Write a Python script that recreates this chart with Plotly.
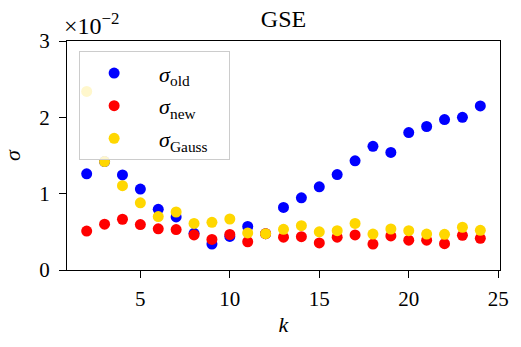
import plotly.graph_objects as go

# k values and the three sigma series (in units of 1e-2)
k = list(range(2, 25))
sigma_old = [1.26, 1.42, 1.245, 1.06, 0.795, 0.695, 0.48, 0.34, 0.44, 0.57, 0.476,
             0.82, 0.945, 1.09, 1.25, 1.43, 1.62, 1.54, 1.80, 1.88, 1.97, 2.00, 2.15]
sigma_new = [0.51, 0.60, 0.665, 0.595, 0.54, 0.53, 0.46, 0.40, 0.465, 0.37, 0.476,
             0.43, 0.437, 0.355, 0.43, 0.46, 0.34, 0.446, 0.39, 0.39, 0.345, 0.455, 0.415]
sigma_gauss = [2.34, 1.42, 1.105, 0.88, 0.70, 0.76, 0.61, 0.625, 0.668, 0.485, 0.476,
               0.533, 0.58, 0.50, 0.515, 0.61, 0.47, 0.537, 0.515, 0.47, 0.467, 0.56, 0.52]

x_ticks = [5, 10, 15, 20, 25]
y_ticks = [0, 1, 2, 3]

FONT = "Liberation Serif"

series = [
    ("<i>σ</i><sub>old</sub>", sigma_old, "#0000ff"),
    ("<i>σ</i><sub>new</sub>", sigma_new, "#ff0000"),
    ("<i>σ</i><sub>Gauss</sub>", sigma_gauss, "#ffd700"),
]

fig = go.Figure()
for i, (name, vals, col) in enumerate(series):
    fig.add_trace(go.Scatter(
        x=k, y=vals, mode="markers", name="\u00a0\u00a0" + name + "\u00a0\u00a0\u00a0",
        legendgroup=str(i),
        marker=dict(color=col, size=11, line=dict(width=0)),
    ))

axis_common = dict(
    showgrid=False, zeroline=False, showline=True, linecolor="black", linewidth=1.3,
    mirror=True, ticks="outside", ticklen=7, tickwidth=1.3, tickcolor="black",
    tickfont=dict(family=FONT, size=21, color="black"),
)

fig.update_layout(
    width=521, height=347,
    margin=dict(l=67, r=19, t=41, b=77),
    plot_bgcolor="white", paper_bgcolor="white",
    title=dict(text="GSE", xref="paper", x=0.5, xanchor="center",
               yref="paper", y=1.0, yanchor="bottom", pad=dict(b=14),
               font=dict(family=FONT, size=24, color="black")),
    xaxis=dict(range=[0.9, 25.1], tickvals=x_ticks, ticklabelstandoff=3,
               title=dict(text="<i>k</i>", font=dict(family=FONT, size=22, color="black"), standoff=6),
               **axis_common),
    yaxis=dict(range=[0, 3], tickvals=y_ticks, ticklabelstandoff=5,
               title=dict(text="<i>σ</i>", font=dict(family=FONT, size=22, color="black"), standoff=12),
               **axis_common),
    legend=dict(x=0.028, y=0.955, xanchor="left", yanchor="top",
                bgcolor="rgba(255,255,255,0.8)", bordercolor="#cccccc", borderwidth=1,
                font=dict(family=FONT, size=22, color="black"),
                tracegroupgap=1, itemwidth=58),
    annotations=[dict(text="×10<sup>−2</sup>", xref="paper", yref="paper", x=0.0, y=1.0,
                      xanchor="left", yanchor="bottom", showarrow=False, xshift=-5,
                      font=dict(family=FONT, size=24, color="black"))],
)

# drop the default page margin so the figure fills the window exactly
fig.write_html("out.html", config={"displayModeBar": False},
               post_script="document.body.style.margin='0';")
